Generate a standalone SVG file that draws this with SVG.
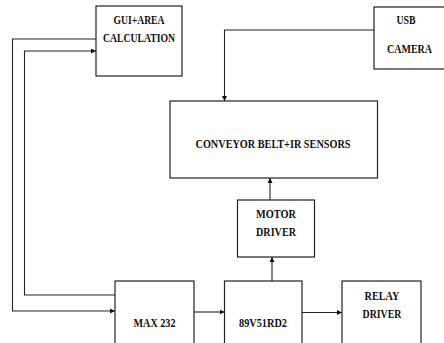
<svg xmlns="http://www.w3.org/2000/svg" width="444" height="343" viewBox="0 0 444 343">
<style>
.box{fill:#fff;stroke:#222;stroke-width:1.2}
.t{font-family:"Liberation Serif","Times New Roman",serif;font-weight:bold;font-size:13px;fill:#111;text-anchor:middle}
.c{fill:none;stroke:#222;stroke-width:1.1}
</style>
<defs>
<marker id="ah" viewBox="0 0 10 10" refX="10" refY="5" markerWidth="5" markerHeight="5" orient="auto" markerUnits="userSpaceOnUse">
<path d="M0,0 L10,5 L0,10 z" fill="#111"/>
</marker>
</defs>
<rect width="444" height="343" fill="#fff"/>
<g id="connectors">
<polyline class="c" points="96,39 12.5,39 12.5,311 115,311" marker-end="url(#ah)"/>
<polyline class="c" points="115,295 24.5,295 24.5,51 96,51" marker-end="url(#ah)"/>
<polyline class="c" points="374,30 224.5,30 224.5,101" marker-end="url(#ah)"/>
<line class="c" x1="270" y1="200" x2="270" y2="178" marker-end="url(#ah)"/>
<line class="c" x1="272" y1="281" x2="272" y2="257" marker-end="url(#ah)"/>
<line class="c" x1="194" y1="312" x2="224.5" y2="312" marker-end="url(#ah)"/>
<line class="c" x1="302" y1="312.5" x2="342" y2="312.5" marker-end="url(#ah)"/>
</g>
<g id="gui">
<rect class="box" x="96" y="6" width="86" height="70"/>
<text class="t" x="139" y="24" textLength="51" lengthAdjust="spacingAndGlyphs">GUI+AREA</text>
<text class="t" x="139" y="42" textLength="72" lengthAdjust="spacingAndGlyphs">CALCULATION</text>
</g>
<g id="usb">
<rect class="box" x="374" y="7" width="76" height="62"/>
<text class="t" x="406" y="24" textLength="19" lengthAdjust="spacingAndGlyphs">USB</text>
<text class="t" x="409.5" y="53" textLength="45" lengthAdjust="spacingAndGlyphs">CAMERA</text>
</g>
<g id="conveyor">
<rect class="box" x="170" y="101" width="207.5" height="77"/>
<text class="t" x="273" y="148" textLength="155" lengthAdjust="spacingAndGlyphs">CONVEYOR BELT+IR SENSORS</text>
</g>
<g id="motor">
<rect class="box" x="237.5" y="200" width="77" height="57"/>
<text class="t" x="276" y="218" textLength="40" lengthAdjust="spacingAndGlyphs">MOTOR</text>
<text class="t" x="276" y="236" textLength="40" lengthAdjust="spacingAndGlyphs">DRIVER</text>
</g>
<g id="max232">
<rect class="box" x="115" y="281" width="79" height="70"/>
<text class="t" x="154.5" y="327" textLength="42" lengthAdjust="spacingAndGlyphs">MAX 232</text>
</g>
<g id="mcu">
<rect class="box" x="224.5" y="281" width="77.5" height="70"/>
<text class="t" x="263" y="327" textLength="48" lengthAdjust="spacingAndGlyphs">89V51RD2</text>
</g>
<g id="relay">
<rect class="box" x="342" y="281" width="79" height="70"/>
<text class="t" x="382" y="300" textLength="35" lengthAdjust="spacingAndGlyphs">RELAY</text>
<text class="t" x="382" y="318" textLength="39" lengthAdjust="spacingAndGlyphs">DRIVER</text>
</g>
</svg>
